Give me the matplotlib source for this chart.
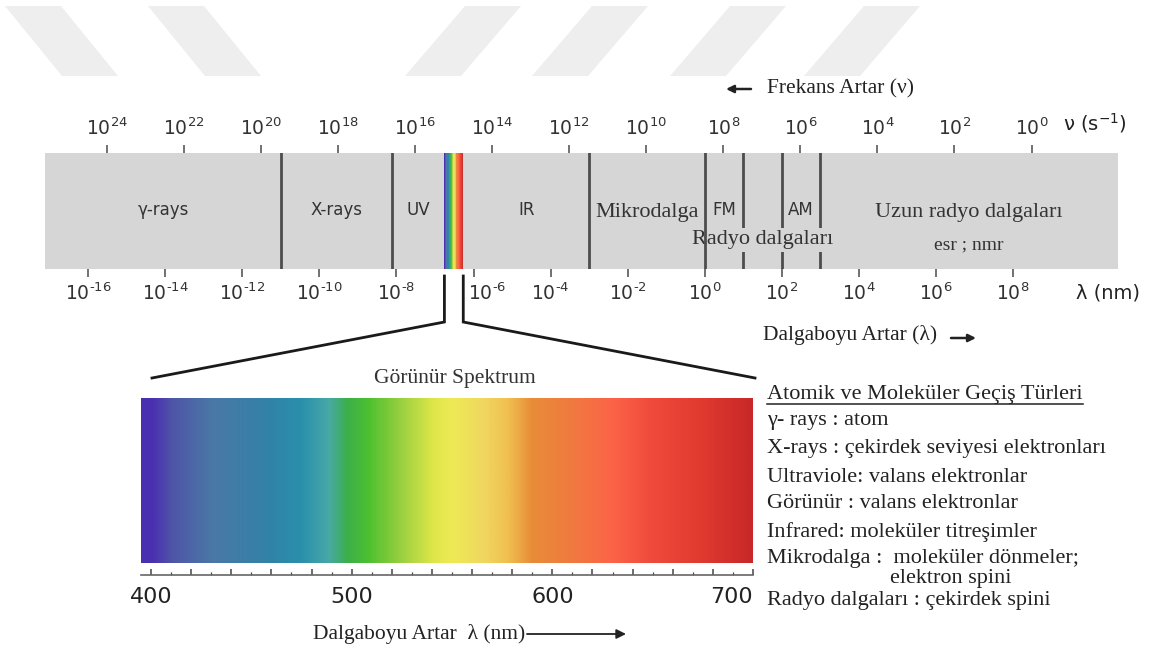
import numpy as np
import matplotlib
matplotlib.use("Agg")
import matplotlib.pyplot as plt
from matplotlib.colors import LinearSegmentedColormap, Normalize
from matplotlib.ticker import MultipleLocator, NullLocator, FuncFormatter
from matplotlib.patches import Polygon
from matplotlib.transforms import ScaledTranslation

W, H = 1156, 652

# elektromanyetik spektrum (ust bant)
dalga_us = [-16, -14, -12, -10, -8, -6, -4, -2, 0, 2, 4, 6, 8]
frekans_us = [24, 22, 20, 18, 16, 14, 12, 10, 8, 6, 4, 2, 0]
isik_hizi = 3e8

bolge_adlari = ["γ-rays", "X-rays", "UV", "IR", "Mikrodalga", "FM", "AM", "Uzun radyo dalgaları"]
bolge_alt = [None, 1e-11, 7.5e-9, 5.4e-7, 1e-3, 1.0, 100.0, 1000.0]
bolge_ust = [1e-11, 7.5e-9, 1.75e-7, 1e-3, 1.0, 10.0, 1000.0, None]
sinirlar = [1e-11, 7.5e-9, 1e-3, 1.0, 10.0, 100.0, 1000.0]
gorunur_bant = [1.75e-7, 5.4e-7]
radyo_bant = [1.0, 1000.0]

# gorunur spektrum
spektrum_nm = [400, 410, 430, 460, 475, 488, 498, 508, 525, 540, 550, 565,
               578, 590, 610, 630, 650, 675, 700]
spektrum_renk = ["#4a30b0", "#4f55a8", "#4a78a6", "#3083a8", "#2a90ac", "#48a8a8",
                 "#3cb048", "#4cc030", "#9cd040", "#dce648", "#eeea55", "#f0d860",
                 "#f0c050", "#e88c38", "#f07a40", "#fc6448", "#f04a3c", "#e03a30", "#c82828"]

gecis_basligi = "Atomik ve Moleküler Geçiş Türleri"
gecis_satirlari = [
    "γ- rays : atom",
    "X-rays : çekirdek seviyesi elektronları",
    "Ultraviole: valans elektronlar",
    "Görünür : valans elektronlar",
    "Infrared: moleküler titreşimler",
    "Mikrodalga :  moleküler dönmeler;",
    "elektron spini",
    "Radyo dalgaları : çekirdek spini",
]

SERIF = ["Liberation Serif", "DejaVu Serif"]
SANS = ["DejaVu Sans"]
GRI = "#d6d6d6"


def us_etiket(e):
    return r"$10^{\text{" + str(e) + "}}$"


fig = plt.figure(figsize=(W / 100, H / 100), dpi=100)


def px_axes(x0, y0, x1, y1):
    return fig.add_axes([x0 / W, 1 - y1 / H, (x1 - x0) / W, (y1 - y0) / H])


# ust bant
ax = px_axes(45, 153, 1118, 269)
ax.set_xscale("log")
ax.set_xlim(10 ** -17.12, 10 ** 10.72)
ax.set_ylim(0, 1)
ax.set_facecolor(GRI)
for s in ax.spines.values():
    s.set_visible(False)
ax.set_yticks([])
ax.set_xticks([10.0 ** e for e in dalga_us])
ax.set_xticklabels([us_etiket(e) for e in dalga_us])
ax.xaxis.set_minor_locator(NullLocator())
ax.tick_params(axis="x", direction="out", length=6, width=1.3, color="#666",
               labelsize=13.5, labelcolor="#333", pad=4)
# 10^-6 etiketi cizginin sagina kaydirilmis
lbl6 = ax.get_xticklabels()[dalga_us.index(-6)]
lbl6.set_transform(lbl6.get_transform() + ScaledTranslation(0.14, 0, fig.dpi_scale_trans))

for x in sinirlar:
    ax.axvline(x, color="#4d4d4d", lw=2, zorder=5 if x == radyo_bant[0] else 3)

norm = Normalize(400, 700)
cmap = LinearSegmentedColormap.from_list(
    "gorunur", list(zip(norm(np.array(spektrum_nm)), spektrum_renk)))

xe = np.geomspace(gorunur_bant[0], gorunur_bant[1], 80)
ax.pcolormesh(xe, [0, 1], np.linspace(400, 700, 79)[None, :], cmap=cmap, norm=norm, zorder=2)

sec = ax.secondary_xaxis("top", functions=(lambda x: isik_hizi / np.maximum(x, 1e-300),
                                           lambda x: isik_hizi / np.maximum(x, 1e-300)))
sec.set_ticks([10.0 ** e for e in frekans_us], labels=[us_etiket(e) for e in frekans_us])
sec.xaxis.set_minor_locator(NullLocator())
sec.tick_params(axis="x", direction="out", length=6, width=1.3, color="#666",
                labelsize=13.5, labelcolor="#333", pad=4)
sec.spines["top"].set_visible(False)

xmin, xmax = ax.get_xlim()
for ad, lo, hi in zip(bolge_adlari, bolge_alt, bolge_ust):
    lo = xmin if lo is None else lo
    hi = xmax if hi is None else hi
    xm = np.sqrt(lo * hi)
    if ad in ("Mikrodalga", "Uzun radyo dalgaları"):
        ax.text(xm, 0.49, ad, ha="center", va="center", family=SERIF, fontsize=16,
                color="#333", zorder=6)
    else:
        ax.text(xm, 0.51, ad, ha="center", va="center", family=SANS, fontsize=12,
                color="#333", zorder=6)
ax.text(np.sqrt(radyo_bant[0] * radyo_bant[1]), 0.25, "Radyo dalgaları", ha="center",
        va="center", family=SERIF, fontsize=16, color="#333", zorder=4,
        bbox=dict(boxstyle="square,pad=0.1", facecolor=GRI, edgecolor="none"))
ax.text(np.sqrt(1000.0 * xmax), 0.21, "esr ; nmr", ha="center", va="center",
        family=SERIF, fontsize=14, color="#333", zorder=6)

# gorunur spektrum
ax2 = px_axes(141, 398, 753, 563)
xs = np.linspace(395, 700, 800)
ax2.imshow(xs[None, :], extent=(395, 700, 0, 1), aspect="auto", cmap=cmap, norm=norm,
           interpolation="bilinear")
ax2.set_xlim(395, 700)
ax2.set_ylim(0, 1)
for k in ("left", "right", "top"):
    ax2.spines[k].set_visible(False)
ax2.spines["bottom"].set_position(("outward", 8.6))
ax2.spines["bottom"].set_color("#666")
ax2.spines["bottom"].set_linewidth(1.2)
ax2.set_yticks([])
ax2.xaxis.set_major_locator(MultipleLocator(20))
ax2.xaxis.set_minor_locator(MultipleLocator(10))
ax2.xaxis.set_major_formatter(FuncFormatter(lambda v, p: f"{v:.0f}" if round(v) % 100 == 0 else ""))
ax2.tick_params(axis="x", which="major", direction="in", length=4.5, width=1.1, color="#444",
                labelsize=16, labelcolor="#222", pad=9)
ax2.tick_params(axis="x", which="minor", direction="in", length=2.5, width=0.9, color="#444")
for lbl in ax2.get_xticklabels():
    if lbl.get_text() == "700":
        lbl.set_horizontalalignment("right")

# ust katman: yazilar ve baglanti cizgileri
ov = fig.add_axes([0, 0, 1, 1])
ov.set_xlim(0, W)
ov.set_ylim(H, 0)
ov.axis("off")
ov.patch.set_alpha(0)

for xt, xb in [(5, 62), (148, 205), (465, 405), (592, 532), (730, 670), (864, 804)]:
    ov.add_patch(Polygon([(xt, 6), (xt + 56, 6), (xb + 56, 76), (xb, 76)],
                         closed=True, facecolor="#eeeeee", edgecolor="none", zorder=0))


def to_px(a, x, y, tr=None):
    tr = a.transData if tr is None else tr
    dx, dy = tr.transform((x, y))
    return dx, H - dy


xl = to_px(ax, gorunur_bant[0], 0)[0]
xr = to_px(ax, gorunur_bant[1], 0)[0]
sl, st = to_px(ax2, 0, 1, ax2.transAxes)
sr, _ = to_px(ax2, 1, 1, ax2.transAxes)
ov.plot([xl, xl, sl + 11], [276, 322, st - 20], color="#1a1a1a", lw=2,
        solid_joinstyle="miter")
ov.plot([xr, xr, sr + 2], [276, 322, st - 20], color="#1a1a1a", lw=2,
        solid_joinstyle="miter")

ov.annotate("", xy=(726, 89), xytext=(751, 89),
            arrowprops=dict(arrowstyle="-|>", color="#222", lw=1.8, mutation_scale=11,
                            shrinkA=0, shrinkB=0))
ov.text(767, 89, "Frekans Artar (ν)", ha="left", va="center", family=SERIF,
        fontsize=15.5, color="#222")
ov.text(1095, 123, "ν (s$^{-1}$)", ha="center", va="center", family=SANS,
        fontsize=14, color="#222")
ov.text(1108, 293, "λ (nm)", ha="center", va="center", family=SANS,
        fontsize=14, color="#222")
ov.text(763, 335, "Dalgaboyu Artar (λ)", ha="left", va="center", family=SERIF,
        fontsize=15.5, color="#222")
ov.annotate("", xy=(976, 338), xytext=(951, 338),
            arrowprops=dict(arrowstyle="-|>", color="#222", lw=1.8, mutation_scale=11,
                            shrinkA=0, shrinkB=0))
ov.text((sl + sr) / 2 + 8, 379, "Görünür Spektrum", ha="center", va="center",
        family=SERIF, fontsize=15.5, color="#333")
ov.text(313, 634, "Dalgaboyu Artar  λ (nm)", ha="left", va="center", family=SERIF,
        fontsize=15.5, color="#222")
ov.annotate("", xy=(626, 634), xytext=(527, 634),
            arrowprops=dict(arrowstyle="-|>", color="#222", lw=1.3, mutation_scale=14,
                            shrinkA=0, shrinkB=0))

t = ov.text(767, 395, gecis_basligi, ha="left", va="center", family=SERIF,
            fontsize=16, color="#222")
bb = t.get_window_extent(fig.canvas.get_renderer())
ov.plot([bb.x0, bb.x1], [404, 404], color="#222", lw=1.1)

satir_y = [420, 449, 477, 504, 532, 558, 578, 600]
for yy, s in zip(satir_y, gecis_satirlari):
    xx = 890 if s == "elektron spini" else 767
    ov.text(xx, yy, s, ha="left", va="center", family=SERIF, fontsize=16, color="#222")

fig.savefig("out.png", dpi=100)
